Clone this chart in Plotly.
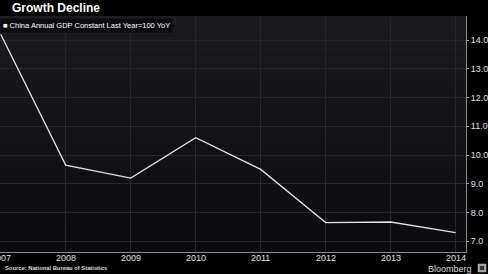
import plotly.graph_objects as go

years = [2007, 2008, 2009, 2010, 2011, 2012, 2013, 2014]
gdp_yoy = [14.2, 9.65, 9.2, 10.6, 9.5, 7.65, 7.67, 7.3]
y_ticks = [7.0, 8.0, 9.0, 10.0, 11.0, 12.0, 13.0, 14.0]

W, H = 488, 274
fig = go.Figure()
fig.add_trace(go.Scatter(x=years, y=gdp_yoy, mode="lines",
                         line=dict(color="#e2e2e2", width=1.3), showlegend=False,
                         hoverinfo="skip"))

# vertical gradient in plot background
shapes = []
n = 24
top = (0x1c, 0x1c, 0x20)
bot = (0x0a, 0x0a, 0x0f)
for i in range(n):
    t = i / (n - 1)
    c = tuple(int(round(top[k] + (bot[k] - top[k]) * t)) for k in range(3))
    shapes.append(dict(type="rect", xref="paper", yref="paper", layer="below",
                       x0=0, x1=1, y0=1 - (i + 1) / n, y1=1 - i / n,
                       fillcolor="rgb(%d,%d,%d)" % c, line=dict(width=0)))

PW, PH = 466.0, 236.0
def px(x):
    return x / PW
def py(y):
    return (252 - y) / PH

# small Bloomberg logo box
shapes.append(dict(type="rect", xref="paper", yref="paper", layer="above",
                   x0=px(478), x1=px(486), y0=py(272), y1=py(264),
                   fillcolor="#9a9a9a", line=dict(color="#cfcfcf", width=0.5)))
shapes.append(dict(type="rect", xref="paper", yref="paper", layer="above",
                   x0=px(480), x1=px(484), y0=py(270), y1=py(266),
                   fillcolor="#3a3a3a", line=dict(width=0)))

font = "Liberation Sans, Arial, sans-serif"
tickfont = dict(family=font, size=9, color="#e0e0e0")

annotations = [
    dict(text=str(yr), xref="x", yref="paper", x=yr, y=py(257.5),
         xanchor="center", yanchor="middle", showarrow=False, font=tickfont)
    for yr in years
]
annotations += [
    dict(text="<b>Growth Decline</b>", xref="paper", yref="paper",
         x=px(10), y=py(8), xanchor="left", yanchor="middle",
         showarrow=False, font=dict(family=font, size=12, color="#ffffff")),
    dict(text="■ China Annual GDP Constant Last Year=100 YoY", xref="paper", yref="paper",
         x=0, y=py(25), xanchor="left", yanchor="middle",
         showarrow=False, bgcolor="#0c0c10", borderpad=2,
         font=dict(family=font, size=7.5, color="#ffffff")),
    dict(text="<b>Source: National Bureau of Statistics</b>", xref="paper", yref="paper",
         x=px(3), y=py(268), xanchor="left", yanchor="middle",
         showarrow=False, font=dict(family=font, size=5.8, color="#dddddd")),
    dict(text="Bloomberg", xref="paper", yref="paper",
         x=px(474), y=py(268.5), xanchor="right", yanchor="middle",
         showarrow=False, font=dict(family=font, size=9, color="#dddddd")),
]

fig.update_layout(
    width=W, height=H,
    margin=dict(l=0, r=22, t=16, b=22),
    paper_bgcolor="#000000", plot_bgcolor="#0f0f13",
    shapes=shapes,
    xaxis=dict(range=[2007 - 0.7 / 65, 2014 + 10.3 / 65], tickvals=years,
               showticklabels=False, showgrid=True,
               gridcolor="#26262c", gridwidth=1, zeroline=False,
               showline=True, linecolor="#8a8a8a", linewidth=1, ticks=""),
    yaxis=dict(side="right", range=[6.627, 14.836], tickvals=y_ticks,
               ticktext=["%.1f" % v for v in y_ticks], showgrid=True,
               gridcolor="#26262c", gridwidth=1, zeroline=False,
               showline=True, linecolor="#8a8a8a", linewidth=1,
               ticks="outside", ticklen=2, tickcolor="#aaaaaa",
               tickfont=tickfont),
    annotations=annotations,
)
fig.write_html("out.html")
